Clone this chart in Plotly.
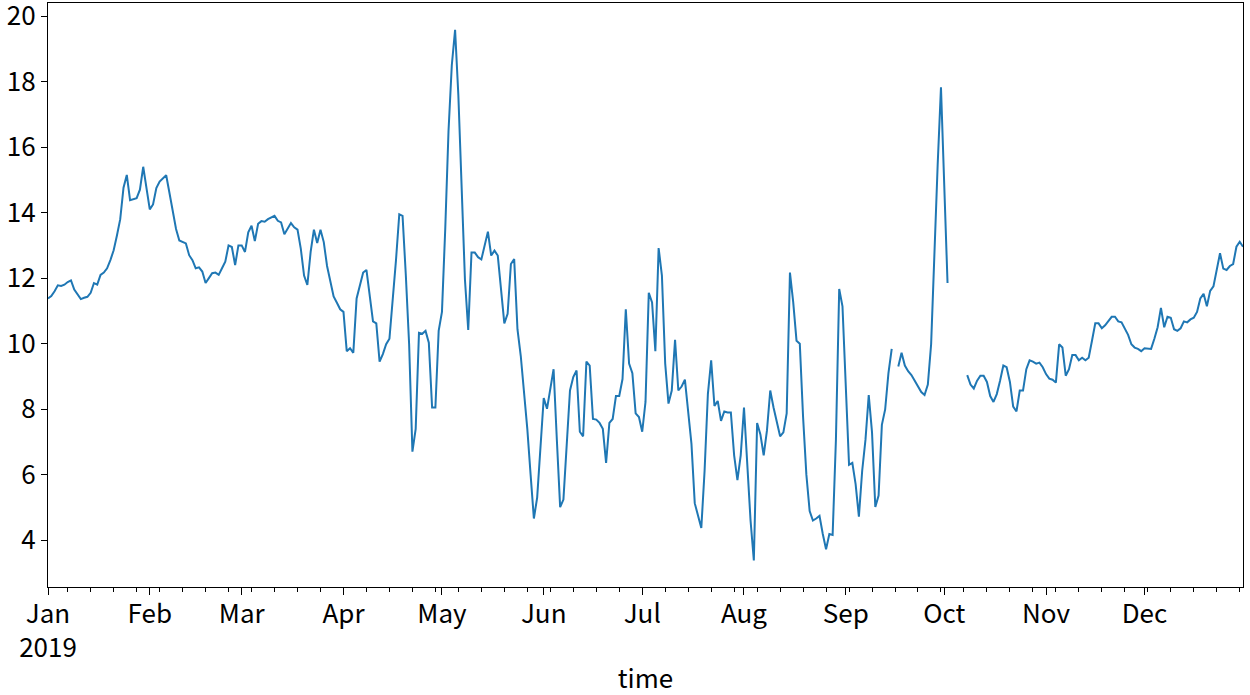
import pandas as pd
import plotly.graph_objects as go

# Daily values for 2019 (None = missing day)
jan_feb = [11.38, 11.45, 11.6, 11.78, 11.76, 11.8, 11.88, 11.93, 11.65, 11.5,
           11.36, 11.4, 11.43, 11.55, 11.85, 11.8, 12.1, 12.17, 12.3, 12.55,
           12.85, 13.3, 13.8, 14.76, 15.15, 14.38, 14.4, 14.44, 14.7, 15.4,
           14.75, 14.1, 14.25, 14.75, 14.95, 15.05, 15.14, 14.6, 14.0, 13.5,
           13.15, 13.1, 13.06, 12.7, 12.55, 12.3, 12.33, 12.2, 11.85, 12.0,
           12.15, 12.17, 12.1, 12.3, 12.5, 13.0, 12.95, 12.4, 13.0, 13.0,
           12.8, 13.4]
mar_may = [13.6, 13.13, 13.66, 13.74, 13.72, 13.8, 13.85, 13.9, 13.75, 13.7,
           13.34, 13.5, 13.68, 13.55, 13.48, 12.9, 12.08, 11.79, 12.8, 13.48,
           13.07, 13.48, 13.1, 12.37, 11.9, 11.44, 11.25, 11.05, 10.97, 9.77,
           9.86, 9.72, 11.38, 11.8, 12.17, 12.25, 11.5, 10.68, 10.62, 9.45,
           9.68, 9.98, 10.15, 11.26, 12.55, 13.95, 13.9, 12.08, 9.98, 6.7,
           7.4, 10.33, 10.3, 10.39, 10.03, 8.05, 8.05, 10.39, 10.97, 13.5,
           16.5]
may_jul = [18.5, 19.58, 17.57, 14.88, 11.96, 10.42, 12.78, 12.78, 12.64, 12.57,
           13.0, 13.42, 12.69, 12.84, 12.69, 11.6, 10.62, 10.91, 12.43, 12.58,
           10.44, 9.63, 8.57, 7.4, 6.0, 4.66, 5.3, 6.82, 8.34, 8.01,
           8.57, 9.22, 7.06, 5.01, 5.24, 6.94, 8.57, 8.98, 9.18, 7.31,
           7.17, 9.45, 9.33, 7.7, 7.68, 7.58, 7.4, 6.36, 7.58, 7.7,
           8.4, 8.4, 8.92, 11.05, 9.39, 9.1, 7.87, 7.76, 7.31, 8.22,
           11.55]
jul_sep = [11.26, 9.77, 12.92, 12.08, 9.39, 8.17, 8.57, 10.12, 8.57, 8.69,
           8.9, 7.87, 6.94, 5.13, 4.78, 4.37, 6.12, 8.46, 9.49, 8.1,
           8.25, 7.64, 7.93, 7.9, 7.9, 6.59, 5.83, 6.59, 8.05, 6.12,
           4.6, 3.38, 7.58, 7.23, 6.59, 7.35, 8.57, 8.05, 7.64, 7.17,
           7.29, 7.87, 12.17, 11.26, 10.09, 10.0, 7.76, 6.0, 4.89, 4.6,
           4.66, 4.74, 4.19, 3.72, 4.19, 4.16, 7.06, 11.67, 11.14, 8.81,
           6.3, 6.36, 5.71, 4.72, 6.12, 7.06, 8.43, 7.29, 5.01, 5.36,
           7.52, 7.99, 9.1, 9.84]
gap_sep = [None]
sep_oct = [9.3, 9.72, 9.33, 9.16, 9.04, 8.87, 8.67, 8.52, 8.43, 8.75,
           9.98, 12.9, 15.47, 17.83, 14.88, 11.85]
gap_oct = [None, None, None, None, None]
oct_nov = [9.04, 8.75, 8.63, 8.87, 9.02, 9.02, 8.83, 8.4, 8.22, 8.46,
           8.87, 9.33, 9.28, 8.83, 8.08, 7.93, 8.57, 8.57, 9.22, 9.49,
           9.45, 9.39, 9.42, 9.28, 9.07, 8.93]
nov_dec = [8.9, 8.81, 9.98, 9.88, 9.02, 9.22, 9.65, 9.65, 9.49, 9.57,
           9.49, 9.57, 10.09, 10.62, 10.62, 10.47, 10.56, 10.68, 10.82, 10.82,
           10.68, 10.65, 10.47, 10.27, 9.98, 9.88, 9.84, 9.77, 9.86, 9.84,
           9.84, 10.15, 10.5, 11.09, 10.5, 10.82, 10.79, 10.44, 10.39, 10.47,
           10.68, 10.65, 10.74, 10.79, 10.97, 11.38, 11.52, 11.14, 11.61, 11.75,
           12.25, 12.76, 12.29, 12.25, 12.37, 12.43, 12.96, 13.11, 12.96]

values = jan_feb + mar_may + may_jul + jul_sep + gap_sep + sep_oct + gap_oct + oct_nov + nov_dec
dates = pd.date_range("2019-01-01", "2019-12-31", freq="D")

month_ticks = pd.date_range("2019-01-01", "2019-12-01", freq="MS")
month_labels = ["Jan<br>2019", "Feb", "Mar", "Apr", "May", "Jun",
                "Jul", "Aug", "Sep", "Oct", "Nov", "Dec"]
y_ticks = [4, 6, 8, 10, 12, 14, 16, 18, 20]

FONT = "Noto Sans CJK SC, Noto Sans, sans-serif"
FS = 26

fig = go.Figure(go.Scatter(
    x=dates, y=values, mode="lines",
    line=dict(color="#1f77b4", width=2),
    connectgaps=False,
))

fig.update_layout(
    width=1250, height=695,
    margin=dict(l=48, r=7, t=3, b=108),
    plot_bgcolor="white", paper_bgcolor="white",
    showlegend=False,
    font=dict(family=FONT, size=FS, color="black"),
)
fig.update_xaxes(
    type="date",
    range=["2019-01-01", "2019-12-31"],
    tickmode="array", tickvals=month_ticks, ticktext=month_labels,
    tickangle=0,
    ticks="outside", ticklen=7, tickwidth=1.2, tickcolor="black",
    showline=True, linecolor="black", linewidth=1.2, mirror=True,
    showgrid=False, zeroline=False, automargin=False,
    ticklabeloverflow="allow",
    ticklabelstandoff=-3,
    minor=dict(ticks="outside", ticklen=4, tickwidth=1, tickcolor="black",
               dtick=7 * 86400000, tick0="2019-01-07", showgrid=False),
    title=dict(text="time", standoff=7, font=dict(family=FONT, size=FS)),
    tickfont=dict(family=FONT, size=FS),
)
fig.update_yaxes(
    range=[2.57, 20.4],
    tickmode="array", tickvals=y_ticks,
    ticks="outside", ticklen=6, tickwidth=1.2, tickcolor="black",
    showline=True, linecolor="black", linewidth=1.2, mirror=True,
    showgrid=False, zeroline=False, automargin=False,
    ticklabeloverflow="allow",
    tickfont=dict(family=FONT, size=FS),
)

fig.write_html("out.html",
               config={"displayModeBar": False},
               post_script="document.body.style.margin='0';document.body.style.padding='0';")
